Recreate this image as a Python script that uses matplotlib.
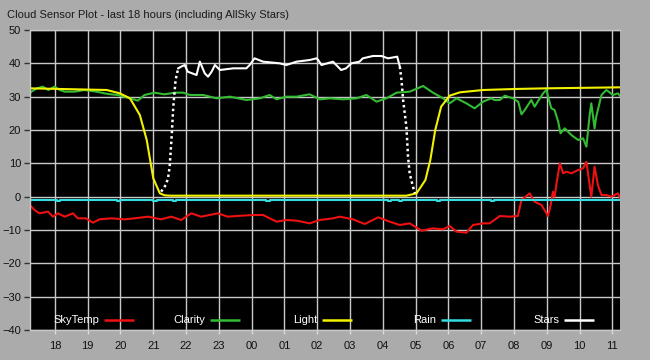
import matplotlib
matplotlib.use("Agg")
import matplotlib.pyplot as plt

# time axis in hours: 24 = 00:00 of the next day, 35 = 11:00
sky_t = [17.23, 17.38, 17.53, 17.79, 17.94, 18.09, 18.30, 18.55, 18.70, 18.95,
         19.16, 19.36, 19.72, 20.13, 20.43, 20.84, 21.24, 21.55, 21.85, 22.16,
         22.46, 22.97, 23.27, 23.54, 24.05, 24.35, 24.55, 24.76, 25.06, 25.37,
         25.77, 26.08, 26.48, 26.69, 27.09, 27.45, 27.86, 28.21, 28.52, 28.82,
         29.18, 29.53, 29.84, 30.04, 30.25, 30.55, 30.75, 31.06, 31.26, 31.57,
         31.87, 32.12, 32.23, 32.48, 32.63, 32.84, 33.04, 33.12, 33.19, 33.24,
         33.30, 33.40, 33.50, 33.60, 33.75, 33.96, 34.11, 34.21, 34.31, 34.36,
         34.46, 34.56, 34.67, 34.82, 34.98, 35.17, 35.23]
sky_v = [-2.5, -4.0, -5.0, -4.5, -6.0, -5.0, -6.0, -5.0, -6.5, -6.5,
         -7.8, -6.8, -6.5, -6.8, -6.5, -6.0, -6.8, -6.0, -7.0, -5.0,
         -6.0, -5.0, -6.0, -5.8, -5.5, -5.5, -6.5, -7.5, -7.0, -7.2,
         -8.0, -7.0, -6.5, -6.0, -6.8, -8.2, -6.2, -7.5, -8.5, -8.0,
         -10.2, -9.5, -9.8, -8.8, -10.5, -10.8, -8.5, -8.0, -8.0, -5.8,
         -6.0, -5.8, -1.0, 1.0, -1.5, -2.5, -5.8, -2.5, 1.5, 0.0,
         4.0, 10.0, 7.0, 7.5, 7.0, 8.0, 8.5, 10.5, 3.5, 0.0,
         9.0, 3.5, 0.5, 0.5, 0.0, 1.0, -0.2]

clarity_t = [17.24, 17.28, 17.45, 17.63, 17.80, 17.99, 18.15, 18.30, 18.60, 18.90,
             19.21, 19.62, 19.92, 20.23, 20.53, 20.73, 21.04, 21.34, 21.65, 21.91,
             22.12, 22.52, 22.93, 23.34, 23.84, 24.25, 24.55, 24.76, 25.06, 25.37,
             25.77, 26.08, 26.40, 26.79, 27.20, 27.50, 27.81, 28.11, 28.42, 28.82,
             29.23, 29.53, 29.84, 30.04, 30.25, 30.55, 30.80, 31.06, 31.31, 31.41,
             31.57, 31.72, 31.97, 32.13, 32.23, 32.33, 32.43, 32.53, 32.63, 32.79,
             32.89, 32.99, 33.07, 33.14, 33.24, 33.35, 33.42, 33.55, 33.75, 33.96,
             34.11, 34.21, 34.31, 34.36, 34.46, 34.51, 34.67, 34.82, 35.02, 35.17,
             35.23]
clarity_v = [31.0, 31.5, 32.5, 33.0, 32.0, 33.0, 32.0, 31.5, 31.5, 32.0,
             31.6, 30.8, 30.5, 29.7, 28.8, 30.5, 31.2, 30.7, 31.2, 31.2,
             30.5, 30.5, 29.5, 30.0, 29.0, 29.5, 30.5, 29.2, 30.0, 30.0,
             30.7, 29.2, 29.5, 29.2, 29.5, 30.5, 28.5, 29.5, 31.2, 31.5,
             33.2, 31.2, 29.5, 28.0, 29.5, 28.0, 26.5, 28.5, 29.5, 29.0,
             29.0, 30.3, 29.5, 28.5, 24.7, 26.0, 27.5, 29.0, 27.0, 29.5,
             31.0, 32.0, 29.0, 26.5, 26.0, 22.5, 19.0, 20.5, 18.5, 17.0,
             17.5, 15.0, 24.5, 28.0, 20.5, 24.0, 30.5, 32.0, 30.5, 31.0,
             30.3]

light_t = [17.24, 18.66, 19.58, 19.98, 20.29, 20.59, 20.80, 21.00, 21.20, 21.35,
           21.50, 24.00, 28.72, 29.03, 29.30, 29.45, 29.60, 29.78, 30.04, 30.35,
           31.06, 32.02, 32.99, 35.23]
light_v = [32.5, 32.2, 32.0, 31.0, 29.5, 24.5, 17.0, 5.5, 1.0, 0.4,
           0.3, 0.3, 0.3, 1.0, 5.0, 11.0, 20.0, 27.0, 30.3, 31.3,
           32.0, 32.3, 32.5, 32.8]

rain_t = [17.24, 18.05, 18.15, 19.90, 20.00, 21.00, 21.10, 21.60, 21.70, 24.45,
          24.55, 28.15, 28.25, 28.50, 28.60, 29.65, 29.75, 31.30, 31.40, 35.23]
rain_v = [-1.0, -1.4, -1.0, -1.4, -1.0, -1.4, -1.0, -1.4, -1.0, -1.4,
          -1.0, -1.4, -1.0, -1.4, -1.0, -1.4, -1.0, -1.4, -1.0, -1.0]

# stars: the steep rise and fall are drawn dotted
stars_rise_t = [21.24, 21.38, 21.45, 21.50, 21.56, 21.61, 21.68, 21.76]
stars_rise_v = [1.5, 3.5, 5.5, 9.0, 18.0, 27.0, 35.0, 38.5]
stars_t = [21.76, 21.85, 21.96, 22.05, 22.32, 22.42, 22.57, 22.67, 22.78, 22.88,
           23.03, 23.44, 23.84, 23.94, 24.09, 24.35, 24.86, 25.06, 25.37, 25.77,
           25.98, 26.03, 26.13, 26.48, 26.73, 26.88, 27.04, 27.29, 27.39, 27.70,
           27.96, 28.16, 28.44, 28.52]
stars_v = [38.5, 39.0, 39.5, 37.5, 36.5, 40.5, 37.0, 36.0, 37.5, 39.5,
           38.0, 38.5, 38.5, 39.5, 41.5, 40.5, 40.0, 39.5, 40.5, 41.0,
           41.5, 41.0, 39.5, 40.5, 38.0, 38.5, 40.0, 40.5, 41.5, 42.2,
           42.2, 41.5, 42.0, 39.0]
stars_fall_t = [28.52, 28.57, 28.62, 28.72, 28.77, 28.82, 28.92, 28.98]
stars_fall_v = [39.0, 35.0, 29.0, 21.0, 12.0, 7.0, 3.0, 1.0]

hour_ticks = [18, 19, 20, 21, 22, 23, 24, 25, 26, 27, 28, 29, 30, 31, 32, 33, 34, 35]
hour_labels = ['18', '19', '20', '21', '22', '23', '00', '01', '02', '03',
               '04', '05', '06', '07', '08', '09', '10', '11']
value_ticks = [-40, -30, -20, -10, 0, 10, 20, 30, 40, 50]

names = ['SkyTemp', 'Clarity', 'Light', 'Rain', 'Stars']
colors = ['#ee1111', '#33bb33', '#f2f200', '#33dde0', '#ffffff']

plt.rcParams['font.family'] = ['Liberation Sans', 'DejaVu Sans']

BG = '#ababab'
fig = plt.figure(figsize=(6.5, 3.6), dpi=100, facecolor=BG)
ax = fig.add_axes([30 / 650, 30 / 360, 590 / 650, 300 / 360])
ax.set_facecolor('black')

lw = 1.5
ax.plot(sky_t, sky_v, color=colors[0], lw=lw)
ax.plot(clarity_t, clarity_v, color=colors[1], lw=lw)
ax.plot(light_t, light_v, color=colors[2], lw=lw)
ax.plot(rain_t, rain_v, color=colors[3], lw=lw, drawstyle='steps-post')
ax.plot(stars_rise_t, stars_rise_v, color=colors[4], lw=1.8, linestyle=(0, (1, 1.2)))
ax.plot(stars_t, stars_v, color=colors[4], lw=lw)
ax.plot(stars_fall_t, stars_fall_v, color=colors[4], lw=1.8, linestyle=(0, (1, 1.2)))

ax.set_xlim(17.24, 35.235)
ax.set_ylim(-40, 50)
ax.set_xticks(hour_ticks)
ax.set_xticklabels(hour_labels)
ax.set_yticks(value_ticks)
ax.set_axisbelow(True)
ax.grid(True, color='#c8c8c8', lw=1.0)

for side in ['top', 'left', 'bottom']:
    ax.spines[side].set_color('#c8c8c8')
    ax.spines[side].set_linewidth(1.0)
ax.spines['right'].set_visible(False)

ax.tick_params(axis='y', length=4.5, width=1, color='#333333', pad=2,
               labelsize=8, labelcolor='#111111')
ax.tick_params(axis='x', length=3, width=1, color='#dddddd', pad=5,
               labelsize=8, labelcolor='#111111')

fig.text(7 / 650, 1 - 17.5 / 360,
         'Cloud Sensor Plot - last 18 hours (including AllSky Stars)',
         fontsize=8, color='#1a1a1a', va='baseline', ha='left')

# legend drawn inside the plot: label first, then a short line
fig.canvas.draw()
renderer = fig.canvas.get_renderer()
leg_y = 10 / 300
for i, (name, col) in enumerate(zip(names, colors)):
    x0 = (23 + 120 * i) / 590
    txt = ax.text(x0, leg_y, name, transform=ax.transAxes, color='white',
                  fontsize=8, va='center', ha='left')
    bb = txt.get_window_extent(renderer)
    xa = ax.transAxes.inverted().transform((bb.x1 + 5, 0))[0]
    ax.plot([xa, xa + 30 / 590], [leg_y, leg_y], transform=ax.transAxes,
            color=col, lw=1.8, solid_capstyle='butt')

fig.savefig('out.png', dpi=100, facecolor=BG)
